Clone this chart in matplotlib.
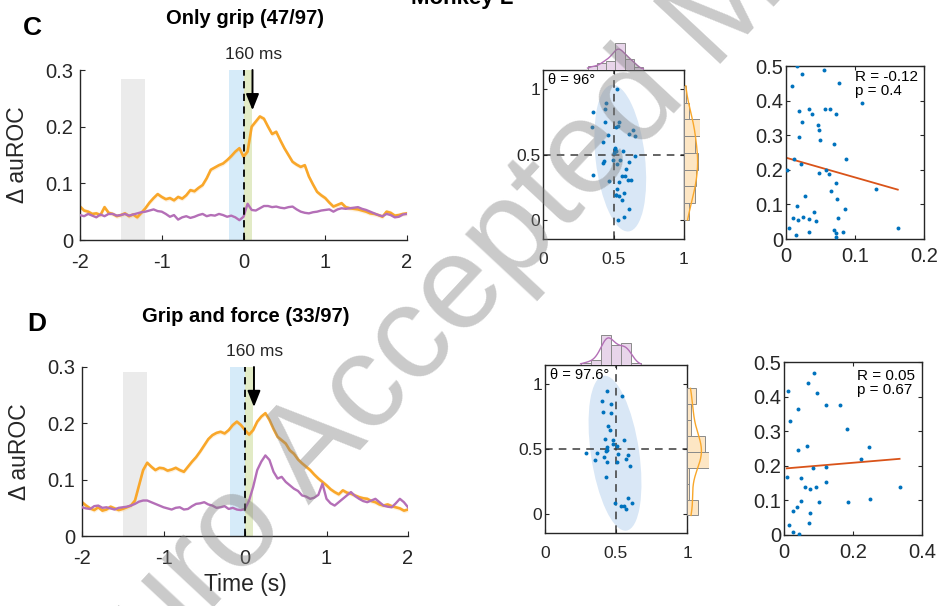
import numpy as np
import matplotlib
matplotlib.use('Agg')
import matplotlib.pyplot as plt
from matplotlib.patches import Ellipse

plt.rcParams['font.family'] = ['Liberation Sans', 'DejaVu Sans']

# ---------------- data ----------------
time_s = np.round(np.arange(-40, 41) * 0.05, 2)

c_orange = [0.059, 0.052, 0.050, 0.046, 0.047, 0.044, 0.058, 0.048, 0.046, 0.042,
            0.044, 0.047, 0.042, 0.045, 0.040, 0.048, 0.056, 0.066, 0.074, 0.081,
            0.076, 0.072, 0.074, 0.070, 0.076, 0.073, 0.079, 0.088, 0.086, 0.092,
            0.097, 0.109, 0.124, 0.128, 0.132, 0.135, 0.141, 0.148, 0.156, 0.162,
            0.147, 0.156, 0.200, 0.209, 0.218, 0.214, 0.200, 0.187, 0.191, 0.176,
            0.162, 0.150, 0.138, 0.133, 0.129, 0.132, 0.112, 0.098, 0.085, 0.079,
            0.074, 0.066, 0.059, 0.062, 0.065, 0.058, 0.056, 0.055, 0.054, 0.052,
            0.050, 0.047, 0.046, 0.044, 0.041, 0.050, 0.048, 0.043, 0.044, 0.046,
            0.047]
c_purple = [0.044, 0.042, 0.046, 0.043, 0.040, 0.045, 0.042, 0.046, 0.046, 0.043,
            0.044, 0.046, 0.043, 0.045, 0.047, 0.049, 0.050, 0.052, 0.054, 0.051,
            0.050, 0.046, 0.041, 0.044, 0.036, 0.040, 0.042, 0.039, 0.041, 0.044,
            0.046, 0.042, 0.044, 0.043, 0.046, 0.044, 0.041, 0.043, 0.040, 0.035,
            0.041, 0.064, 0.053, 0.052, 0.056, 0.060, 0.060, 0.058, 0.059, 0.057,
            0.056, 0.058, 0.059, 0.054, 0.050, 0.048, 0.047, 0.049, 0.050, 0.052,
            0.053, 0.054, 0.050, 0.054, 0.056, 0.055, 0.056, 0.057, 0.058, 0.055,
            0.053, 0.050, 0.047, 0.044, 0.042, 0.046, 0.044, 0.040, 0.041, 0.045,
            0.046]
d_orange = [0.060, 0.054, 0.049, 0.046, 0.051, 0.045, 0.047, 0.052, 0.049, 0.046,
            0.048, 0.051, 0.054, 0.063, 0.090, 0.117, 0.130, 0.123, 0.117, 0.121,
            0.120, 0.116, 0.118, 0.121, 0.117, 0.114, 0.123, 0.132, 0.140, 0.150,
            0.161, 0.172, 0.179, 0.183, 0.185, 0.182, 0.188, 0.197, 0.203, 0.197,
            0.188, 0.180, 0.188, 0.203, 0.212, 0.218, 0.206, 0.190, 0.176, 0.170,
            0.164, 0.152, 0.146, 0.136, 0.129, 0.123, 0.117, 0.109, 0.102, 0.096,
            0.090, 0.083, 0.078, 0.074, 0.081, 0.077, 0.075, 0.072, 0.069, 0.067,
            0.066, 0.062, 0.060, 0.056, 0.054, 0.056, 0.053, 0.051, 0.049, 0.045,
            0.047]
d_purple = [0.051, 0.049, 0.048, 0.053, 0.054, 0.050, 0.051, 0.049, 0.047, 0.050,
            0.051, 0.052, 0.054, 0.057, 0.061, 0.063, 0.063, 0.060, 0.057, 0.054,
            0.051, 0.049, 0.047, 0.050, 0.051, 0.047, 0.048, 0.053, 0.057, 0.058,
            0.060, 0.056, 0.054, 0.050, 0.051, 0.053, 0.048, 0.050, 0.047, 0.046,
            0.048, 0.063, 0.087, 0.117, 0.132, 0.143, 0.135, 0.114, 0.102, 0.105,
            0.096, 0.090, 0.084, 0.080, 0.072, 0.070, 0.066, 0.068, 0.073, 0.093,
            0.066, 0.058, 0.054, 0.060, 0.066, 0.072, 0.078, 0.071, 0.066, 0.062,
            0.060, 0.063, 0.066, 0.060, 0.054, 0.052, 0.051, 0.058, 0.066, 0.060,
            0.051]

c_mid_x = [0.526, 0.448, 0.443, 0.354, 0.344, 0.443, 0.538, 0.46, 0.52, 0.637,
           0.613, 0.656, 0.425, 0.514, 0.52, 0.507, 0.566, 0.495, 0.524, 0.425,
           0.436, 0.656, 0.608, 0.59, 0.358, 0.467, 0.561, 0.583, 0.538, 0.606,
           0.625, 0.526, 0.571, 0.519, 0.538, 0.561, 0.613, 0.571, 0.535, 0.53,
           0.51, 0.545, 0.52]
c_mid_y = [1.0, 0.893, 0.849, 0.821, 0.709, 0.745, 0.747, 0.65, 0.71, 0.689,
           0.656, 0.643, 0.592, 0.548, 0.53, 0.515, 0.528, 0.459, 0.429, 0.434,
           0.449, 0.49, 0.441, 0.388, 0.344, 0.301, 0.337, 0.337, 0.291, 0.306,
           0.306, 0.235, 0.204, 0.191, 0.184, 0.153, 0.082, 0.02, 0.0, 0.72,
           0.54, 0.46, 0.19]
d_mid_x = [0.434, 0.545, 0.404, 0.462, 0.408, 0.467, 0.444, 0.458, 0.423, 0.477,
           0.559, 0.477, 0.434, 0.505, 0.429, 0.289, 0.364, 0.516, 0.582, 0.415,
           0.570, 0.352, 0.439, 0.509, 0.599, 0.429, 0.582, 0.491, 0.610, 0.533,
           0.556, 0.568, 0.44]
d_mid_y = [0.943, 0.906, 0.870, 0.849, 0.787, 0.774, 0.675, 0.644, 0.577, 0.571,
           0.566, 0.540, 0.519, 0.525, 0.488, 0.473, 0.473, 0.465, 0.452, 0.436,
           0.426, 0.418, 0.400, 0.397, 0.369, 0.286, 0.127, 0.088, 0.086, 0.062,
           0.060, 0.036, 0.49]

c_ell = dict(center=(0.548, 0.472), major=1.125, minor=0.35, theta=96)
d_ell = dict(center=(0.493, 0.468), major=1.20, minor=0.34, theta=97.6)

c_top_bins = [0.316, 0.382, 0.448, 0.514, 0.580, 0.646, 0.712]
c_right_bins = [0.0, 0.128, 0.256, 0.384, 0.512, 0.640, 0.768, 0.896, 1.024]
d_top_bins = [0.251, 0.321, 0.392, 0.462, 0.533, 0.603, 0.674]
d_right_bins = [-0.01, 0.112, 0.234, 0.356, 0.478, 0.600, 0.722, 0.844, 0.966]

c_r_x = [0.016, 0.055, 0.023, 0.077, 0.009, 0.110, 0.019, 0.034, 0.056, 0.064,
         0.037, 0.073, 0.023, 0.046, 0.048, 0.019, 0.049, 0.070, 0.087, 0.012,
         0.022, 0.001, 0.058, 0.048, 0.063, 0.073, 0.131, 0.065, 0.028, 0.074,
         0.016, 0.086, 0.041, 0.025, 0.010, 0.018, 0.034, 0.043, 0.075, 0.004,
         0.162, 0.033, 0.014, 0.070, 0.072, 0.072, 0.082]
c_r_y = [0.5, 0.487, 0.478, 0.452, 0.442, 0.392, 0.371, 0.376, 0.376, 0.376,
         0.362, 0.360, 0.339, 0.329, 0.314, 0.296, 0.287, 0.274, 0.230, 0.231,
         0.217, 0.2, 0.2, 0.190, 0.188, 0.163, 0.145, 0.1375, 0.124, 0.116,
         0.096, 0.0875, 0.079, 0.065, 0.06, 0.055, 0.059, 0.053, 0.06, 0.031,
         0.031, 0.021, 0.013, 0.025, 0.017, 0.005, 0.019]
d_r_x = [0.087, 0.011, 0.071, 0.096, 0.040, 0.121, 0.162, 0.017, 0.184, 0.068,
         0.246, 0.041, 0.224, 0.084, 0.121, 0.008, 0.049, 0.123, 0.061, 0.093,
         0.074, 0.335, 0.250, 0.050, 0.101, 0.186, 0.038, 0.025, 0.076, 0.014,
         0.072, 0.026, 0.044]
d_r_y = [0.467, 0.416, 0.439, 0.411, 0.363, 0.376, 0.377, 0.330, 0.306, 0.257,
         0.254, 0.246, 0.219, 0.194, 0.197, 0.167, 0.165, 0.152, 0.138, 0.140,
         0.134, 0.138, 0.105, 0.0995, 0.0965, 0.0946, 0.082, 0.070, 0.063, 0.030,
         0.036, 0.009, 0.003]
c_fit = dict(intercept=0.235, slope=-0.57, R='-0.12', p='0.4')
d_fit = dict(intercept=0.192, slope=0.084, R='0.05', p='0.67')

# ---------------- style ----------------
ORANGE = '#f9a72a'
PURPLE = '#b46fb7'
BLUE = '#0072BD'
FIT = '#D95319'
TXT = '#262626'

W, H = 939, 606
fig = plt.figure(figsize=(W / 100, H / 100), dpi=100)


def rect(l, t, r, b):
    return [l / W, 1 - b / H, (r - l) / W, (b - t) / H]


def time_panel(r, orange, purple, gray_top, show_xlabel):
    ax = fig.add_axes(rect(*r))
    ax.axvspan(-1.5, -1.2, ymin=0, ymax=gray_top / 0.3, color='#ebebeb', lw=0, zorder=0)
    ax.axvspan(-0.18, 0.0, color='#d6ebf9', lw=0, zorder=0)
    ax.axvspan(0.0, 0.1, color='#e2ebc6', lw=0, zorder=0)
    o = np.array(orange)
    ax.fill_between(time_s, o - 0.004, o + 0.004, color=ORANGE, alpha=0.15, lw=0, zorder=1)
    ax.plot(time_s, o, color=ORANGE, lw=1.9, zorder=2)
    ax.plot(time_s, purple, color=PURPLE, lw=1.7, zorder=3)
    ax.plot([0, 0], [0, 0.3], color='k', lw=1.3, ls=(0, (4, 3)), zorder=4)
    ax.annotate('', xy=(0.11, 0.229), xytext=(0.11, 0.3),
                arrowprops=dict(arrowstyle='-|>,head_length=0.7,head_width=0.28',
                                color='k', lw=1.4, mutation_scale=14,
                                shrinkA=0, shrinkB=0), annotation_clip=False, zorder=5)
    ax.text(0.12, 0.328, '160 ms', ha='center', va='center', fontsize=12.5, color=TXT)
    ax.set_xlim(-2, 2)
    ax.set_ylim(0, 0.3)
    ax.set_xticks([-2, -1, 0, 1, 2])
    ax.set_xticklabels(['-2', '-1', '0', '1', '2'])
    ax.set_yticks([0, 0.1, 0.2, 0.3])
    ax.set_yticklabels(['0', '0.1', '0.2', '0.3'])
    for s in ['top', 'right']:
        ax.spines[s].set_visible(False)
    for s in ['left', 'bottom']:
        ax.spines[s].set_color(TXT)
        ax.spines[s].set_linewidth(1.0)
    ax.tick_params(direction='in', length=3.5, labelsize=14.5, colors=TXT)
    ax.tick_params(axis='x', pad=9)
    ax.tick_params(axis='y', pad=5)
    ax.set_ylabel('\u0394 auROC', fontsize=16.5, color=TXT)
    ax.yaxis.set_label_coords(-0.157, 0.5)
    if show_xlabel:
        ax.set_xlabel('Time (s)', fontsize=16.5, color=TXT)
    ax.set_facecolor('none')
    return ax


def kde(vals, grid):
    v = np.asarray(vals)
    h = 1.06 * v.std() * len(v) ** (-0.2)
    d = np.exp(-0.5 * ((grid[:, None] - v[None, :]) / h) ** 2).sum(1) / (len(v) * h * np.sqrt(2 * np.pi))
    return d


def mid_panel(r, xs, ys, ell, top_bins, right_bins, top_h, right_w, label):
    l, t, rr, b = r
    ax = fig.add_axes(rect(*r))
    e = Ellipse(ell['center'], width=ell['major'], height=ell['minor'], angle=ell['theta'],
                facecolor='#d9e7f6', edgecolor='none', zorder=0)
    ax.add_patch(e)
    ax.axvline(0.5, color='#3a3a3a', lw=1.1, ls=(0, (5, 4)), zorder=1)
    ax.axhline(0.5, color='#3a3a3a', lw=1.1, ls=(0, (5, 4)), zorder=1)
    ax.scatter(xs, ys, s=8, color=BLUE, lw=0, zorder=3)
    ax.set_xlim(0, 1)
    ax.set_ylim(-0.145, 1.145)
    ax.set_xticks([0, 0.5, 1])
    ax.set_xticklabels(['0', '0.5', '1'])
    ax.set_yticks([0, 0.5, 1])
    ax.set_yticklabels(['0', '0.5', '1'])
    for s in ax.spines.values():
        s.set_color(TXT)
        s.set_linewidth(1.0)
    ax.tick_params(direction='in', length=3, labelsize=12.5, colors=TXT,
                   top=True, right=True)
    ax.tick_params(axis='x', pad=9)
    ax.tick_params(axis='y', pad=2)
    ax.text(0.035, 0.94, label, transform=ax.transAxes, fontsize=10.5,
            ha='left', va='center', color='k')

    # top histogram
    cnt_t, _ = np.histogram(xs, bins=top_bins)
    axt = fig.add_axes(rect(l, t - top_h, rr, t))
    axt.hist(xs, bins=top_bins, color='#e8d5ea', edgecolor='#8a8a8a', lw=0.7)
    g = np.linspace(top_bins[0], top_bins[-1], 200)
    axt.plot(g, kde(xs, g) * len(xs) * (top_bins[1] - top_bins[0]), color=PURPLE, lw=1.0)
    axt.set_xlim(0, 1)
    axt.set_ylim(0, cnt_t.max())
    axt.axis('off')

    # right histogram
    cnt_r, _ = np.histogram(ys, bins=right_bins)
    axr = fig.add_axes(rect(rr, t, rr + right_w, b))
    axr.hist(ys, bins=right_bins, orientation='horizontal', color='#fde6c4',
             edgecolor='#8a8a8a', lw=0.7)
    g = np.linspace(right_bins[0], right_bins[-1], 200)
    axr.plot(kde(ys, g) * len(ys) * (right_bins[1] - right_bins[0]), g, color=ORANGE, lw=1.0)
    axr.set_ylim(-0.145, 1.145)
    axr.set_xlim(0, cnt_r.max())
    axr.axis('off')
    return ax


def right_panel(r, xs, ys, fit, xmax, xticks, xlabels, txt_pos):
    ax = fig.add_axes(rect(*r))
    ax.scatter(xs, ys, s=8, color=BLUE, lw=0, zorder=3)
    fx = np.array([min(xs), max(xs)])
    ax.plot(fx, fit['intercept'] + fit['slope'] * fx, color=FIT, lw=1.3, zorder=2)
    ax.set_xlim(0, xmax)
    ax.set_ylim(0, 0.5)
    ax.set_xticks(xticks)
    ax.set_xticklabels(xlabels)
    ax.set_yticks([0, 0.1, 0.2, 0.3, 0.4, 0.5])
    ax.set_yticklabels(['0', '0.1', '0.2', '0.3', '0.4', '0.5'])
    for s in ax.spines.values():
        s.set_color(TXT)
        s.set_linewidth(1.0)
    ax.tick_params(direction='in', length=3, labelsize=14.5, colors=TXT,
                   top=True, right=True)
    ax.tick_params(axis='x', pad=6)
    ax.tick_params(axis='y', pad=2)
    ax.text(txt_pos[0], txt_pos[1], 'R = ' + fit['R'] + '\np = ' + fit['p'],
            transform=ax.transAxes, fontsize=11, ha='left', va='top',
            color='k', linespacing=1.0)
    return ax


# panel C
time_panel((80, 70, 407, 240), c_orange, c_purple, 0.285, False)
mid_panel((543, 70, 684, 239), c_mid_x, c_mid_y, c_ell, c_top_bins, c_right_bins,
          27, 16, '\u03b8 = 96\u00b0')
right_panel((786, 66, 924, 239), c_r_x, c_r_y, c_fit, 0.2, [0, 0.1, 0.2],
            ['0', '0.1', '0.2'], (0.5, 0.975))

# panel D
time_panel((82, 367, 408, 536), d_orange, d_purple, 0.292, True)
mid_panel((545, 365, 687, 533), d_mid_x, d_mid_y, d_ell, d_top_bins, d_right_bins,
          30, 22, '\u03b8 = 97.6\u00b0')
right_panel((784, 362, 922, 535), d_r_x, d_r_y, d_fit, 0.4, [0, 0.2, 0.4],
            ['0', '0.2', '0.4'], (0.53, 0.96))

# titles and panel letters
fig.text(245 / W, 1 - 19 / H, 'Only grip (47/97)', fontsize=14.5, fontweight='bold',
         ha='center', va='center', color='k')
fig.text(246 / W, 1 - 316 / H, 'Grip and force (33/97)', fontsize=14.5, fontweight='bold',
         ha='center', va='center', color='k')
fig.text(32 / W, 1 - 28 / H, 'C', fontsize=19, fontweight='bold', ha='center', va='center')
fig.text(37 / W, 1 - 324 / H, 'D', fontsize=19, fontweight='bold', ha='center', va='center')
fig.text(462 / W, 1 - 4 / H, 'Monkey L', fontsize=16, fontweight='bold', ha='center',
         va='baseline', color='k')

# watermark
fig.text(549 / W, 1 - 197 / H, 'eNeuro Accepted Manuscript', fontsize=96, color='#808080',
         alpha=0.42, rotation=47, rotation_mode='anchor', ha='center', va='center',
         zorder=20)

fig.savefig('out.png', dpi=100)
